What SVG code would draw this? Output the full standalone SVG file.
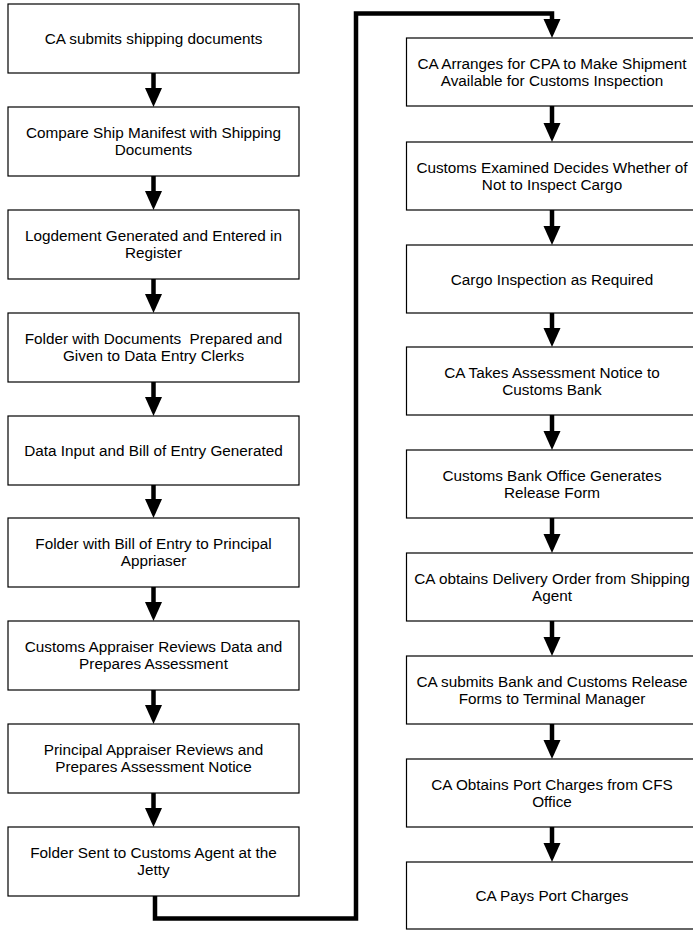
<svg xmlns="http://www.w3.org/2000/svg" width="693" height="930" viewBox="0 0 693 930">
<style>
.box{fill:#fff;stroke:#000;stroke-width:1.2}
.t{font-family:"Liberation Sans",Arial,sans-serif;font-size:15.3px;fill:#000;text-anchor:middle;white-space:pre}
.sh{stroke:#000;stroke-width:4.5;fill:none}
.hd{fill:#000}
</style>
<defs>
<polygon id="head" points="-8.5,-19 8.5,-19 0,0"/>
</defs>
<rect width="693" height="930" fill="#fff"/>
<g id="connectors">
<line class="sh" x1="153.5" y1="73" x2="153.5" y2="90"/><use href="#head" class="hd" x="153.5" y="107"/>
<line class="sh" x1="153.5" y1="176" x2="153.5" y2="193"/><use href="#head" class="hd" x="153.5" y="210"/>
<line class="sh" x1="153.5" y1="279" x2="153.5" y2="296"/><use href="#head" class="hd" x="153.5" y="313"/>
<line class="sh" x1="153.5" y1="382" x2="153.5" y2="399"/><use href="#head" class="hd" x="153.5" y="416"/>
<line class="sh" x1="153.5" y1="485" x2="153.5" y2="501"/><use href="#head" class="hd" x="153.5" y="518"/>
<line class="sh" x1="153.5" y1="587" x2="153.5" y2="604"/><use href="#head" class="hd" x="153.5" y="621"/>
<line class="sh" x1="153.5" y1="690" x2="153.5" y2="707"/><use href="#head" class="hd" x="153.5" y="724"/>
<line class="sh" x1="153.5" y1="793" x2="153.5" y2="810"/><use href="#head" class="hd" x="153.5" y="827"/>
<path class="sh" d="M155,896 V918.5 H356 V13.5 H552 V23" stroke-linejoin="miter"/><use href="#head" class="hd" x="552" y="38"/>
<line class="sh" x1="552" y1="106" x2="552" y2="125"/><use href="#head" class="hd" x="552" y="142"/>
<line class="sh" x1="552" y1="210" x2="552" y2="228"/><use href="#head" class="hd" x="552" y="245"/>
<line class="sh" x1="552" y1="313" x2="552" y2="330"/><use href="#head" class="hd" x="552" y="347"/>
<line class="sh" x1="552" y1="415" x2="552" y2="433"/><use href="#head" class="hd" x="552" y="450"/>
<line class="sh" x1="552" y1="518" x2="552" y2="536"/><use href="#head" class="hd" x="552" y="553"/>
<line class="sh" x1="552" y1="621" x2="552" y2="639"/><use href="#head" class="hd" x="552" y="656"/>
<line class="sh" x1="552" y1="724" x2="552" y2="742"/><use href="#head" class="hd" x="552" y="759"/>
<line class="sh" x1="552" y1="827" x2="552" y2="845"/><use href="#head" class="hd" x="552" y="862"/>
</g>
<g id="L1"><rect class="box" x="8" y="4" width="291" height="69"/><text class="t" x="153.5" y="44">CA submits shipping documents</text></g>
<g id="L2"><rect class="box" x="8" y="107" width="291" height="69"/><text class="t" x="153.5" y="137.5">Compare Ship Manifest with Shipping</text><text class="t" x="153.5" y="155">Documents</text></g>
<g id="L3"><rect class="box" x="8" y="210" width="291" height="69"/><text class="t" x="153.5" y="240.5">Logdement Generated and Entered in</text><text class="t" x="153.5" y="258">Register</text></g>
<g id="L4"><rect class="box" x="8" y="313" width="291" height="69"/><text class="t" x="153.5" y="343.5">Folder with Documents  Prepared and</text><text class="t" x="153.5" y="361">Given to Data Entry Clerks</text></g>
<g id="L5"><rect class="box" x="8" y="416" width="291" height="69"/><text class="t" x="153.5" y="456">Data Input and Bill of Entry Generated</text></g>
<g id="L6"><rect class="box" x="8" y="518" width="291" height="69"/><text class="t" x="153.5" y="548.5">Folder with Bill of Entry to Principal</text><text class="t" x="153.5" y="566">Appriaser</text></g>
<g id="L7"><rect class="box" x="8" y="621" width="291" height="69"/><text class="t" x="153.5" y="651.5">Customs Appraiser Reviews Data and</text><text class="t" x="153.5" y="669">Prepares Assessment</text></g>
<g id="L8"><rect class="box" x="8" y="724" width="291" height="69"/><text class="t" x="153.5" y="754.5">Principal Appraiser Reviews and</text><text class="t" x="153.5" y="772">Prepares Assessment Notice</text></g>
<g id="L9"><rect class="box" x="8" y="827" width="291" height="69"/><text class="t" x="153.5" y="857.5">Folder Sent to Customs Agent at the</text><text class="t" x="153.5" y="875">Jetty</text></g>
<g id="R1"><rect class="box" x="406.5" y="38" width="291" height="68"/><text class="t" x="552" y="68.5">CA Arranges for CPA to Make Shipment</text><text class="t" x="552" y="86">Available for Customs Inspection</text></g>
<g id="R2"><rect class="box" x="406.5" y="142" width="291" height="68"/><text class="t" x="552" y="172.5">Customs Examined Decides Whether of</text><text class="t" x="552" y="190">Not to Inspect Cargo</text></g>
<g id="R3"><rect class="box" x="406.5" y="245" width="291" height="68"/><text class="t" x="552" y="285">Cargo Inspection as Required</text></g>
<g id="R4"><rect class="box" x="406.5" y="347" width="291" height="68"/><text class="t" x="552" y="377.5">CA Takes Assessment Notice to</text><text class="t" x="552" y="395">Customs Bank</text></g>
<g id="R5"><rect class="box" x="406.5" y="450" width="291" height="68"/><text class="t" x="552" y="480.5">Customs Bank Office Generates</text><text class="t" x="552" y="498">Release Form</text></g>
<g id="R6"><rect class="box" x="406.5" y="553" width="291" height="68"/><text class="t" x="552" y="583.5">CA obtains Delivery Order from Shipping</text><text class="t" x="552" y="601">Agent</text></g>
<g id="R7"><rect class="box" x="406.5" y="656" width="291" height="68"/><text class="t" x="552" y="686.5">CA submits Bank and Customs Release</text><text class="t" x="552" y="704">Forms to Terminal Manager</text></g>
<g id="R8"><rect class="box" x="406.5" y="759" width="291" height="68"/><text class="t" x="552" y="789.5">CA Obtains Port Charges from CFS</text><text class="t" x="552" y="807">Office</text></g>
<g id="R9"><rect class="box" x="406.5" y="862" width="291" height="67"/><text class="t" x="552" y="901">CA Pays Port Charges</text></g>
</svg>
